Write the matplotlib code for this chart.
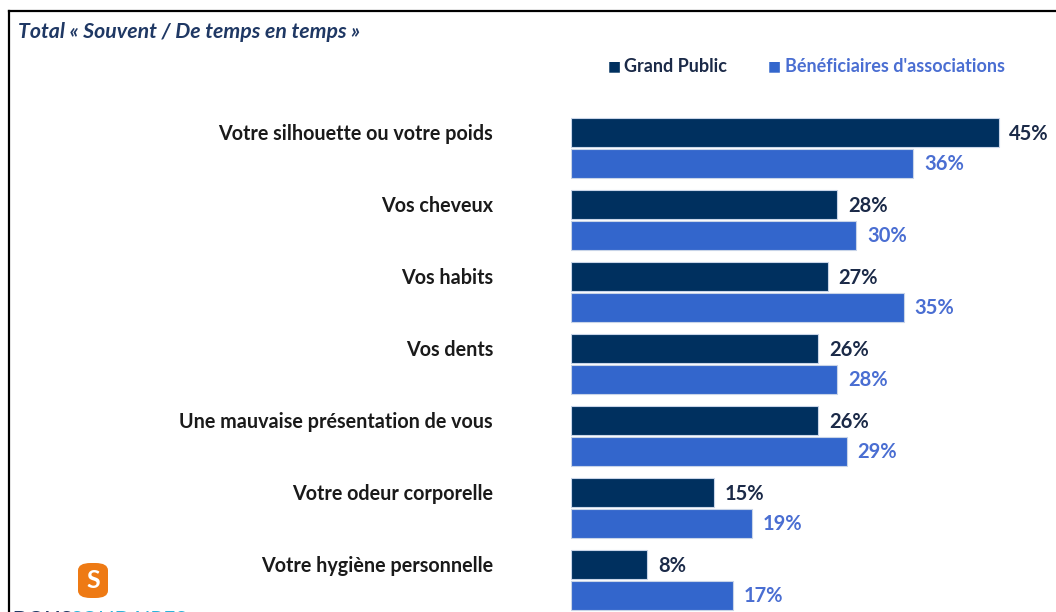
import matplotlib
matplotlib.use("Agg")
import matplotlib.pyplot as plt
from matplotlib.patches import FancyBboxPatch
from matplotlib.lines import Line2D

# Data
categories = [
    'Votre silhouette ou votre poids',
    'Vos cheveux',
    'Vos habits',
    'Vos dents',
    'Une mauvaise présentation de vous',
    'Votre odeur corporelle',
    'Votre hygiène personnelle',
]
grand_public = [45, 28, 27, 26, 26, 15, 8]
beneficiaires = [36, 30, 35, 28, 29, 19, 17]
series_names = ['Grand Public', "Bénéficiaires d'associations"]

dark = '#00305F'
blue = '#3366CC'
dark_txt = '#1B2A48'
blue_txt = '#4A6ED2'

plt.rcParams['font.family'] = ['Lato', 'DejaVu Sans']

W, H = 1056, 612
fig = plt.figure(figsize=(W / 100, H / 100), dpi=100)

# axes in pixel-like data units: x in %, y in pixels from top
ax_left, ax_right = 571, 1046
ax_top, ax_bottom = 100, 612
ax = fig.add_axes([ax_left / W, 1 - ax_bottom / H, (ax_right - ax_left) / W, (ax_bottom - ax_top) / H])
ax.set_xlim(0, 50)
ax.set_ylim(ax_bottom, ax_top)
ax.axis('off')

pitch = 72
first = 132.5
bar_h = 29.5
for i, (cat, g, b) in enumerate(zip(categories, grand_public, beneficiaires)):
    yd = first + pitch * i
    yb = yd + 31
    ax.barh(yd, g, height=bar_h, color=dark, edgecolor='#c8d4e8', linewidth=0.8)
    ax.barh(yb, b, height=bar_h, color=blue, edgecolor='#c8d4e8', linewidth=0.8)
    ax.text(g + 1.15, yd + 1, f'{g}%', ha='left', va='center', fontsize=14.5, fontweight='bold', color=dark_txt)
    ax.text(b + 1.15, yb + 1, f'{b}%', ha='left', va='center', fontsize=14.5, fontweight='bold', color=blue_txt)
    fig.text(493 / W, 1 - (yd + 2) / H, cat, ha='right', va='center', fontsize=14.2,
             fontweight='bold', color='#1a1a1a')

# title
fig.text(18 / W, 1 - 32 / H, 'Total « Souvent / De temps en temps »', ha='left', va='center',
         fontsize=15.3, fontweight='bold', style='italic', color='#1F3864')

# legend
fig.text(608 / W, 1 - 66 / H, '■', ha='left', va='center', fontsize=10, color=dark)
fig.text(624 / W, 1 - 66 / H, series_names[0], ha='left', va='center', fontsize=13,
         fontweight='bold', color=dark_txt)
fig.text(768 / W, 1 - 66 / H, '■', ha='left', va='center', fontsize=10, color=blue)
fig.text(785 / W, 1 - 66 / H, series_names[1], ha='left', va='center', fontsize=13,
         fontweight='bold', color=blue_txt)

# frame lines (left and top)
fig.add_artist(Line2D([8.5 / W, 8.5 / W], [0, 1 - 10.5 / H], color='black', linewidth=1.6))
fig.add_artist(Line2D([8.5 / W, 1], [1 - 10.5 / H, 1 - 10.5 / H], color='black', linewidth=1.6))

# logo
logo = FancyBboxPatch((78 / W, 1 - 598 / H), 30 / W, 35 / H,
                      boxstyle='round,pad=0,rounding_size=0.012', transform=fig.transFigure,
                      facecolor='#EE7A14', edgecolor='none')
fig.add_artist(logo)
fig.text(93 / W, 1 - 581 / H, 'S', ha='center', va='center', fontsize=18, fontweight='bold',
         color='white')
fig.text(12 / W, 1 - 620 / H, 'DONS', ha='left', va='center', fontsize=15, fontweight='bold',
         color='#1F3864')
fig.text(70 / W, 1 - 620 / H, 'SOLIDAIRES', ha='left', va='center', fontsize=15,
         color='#2BB3D9')

fig.savefig('out.png', dpi=100)
